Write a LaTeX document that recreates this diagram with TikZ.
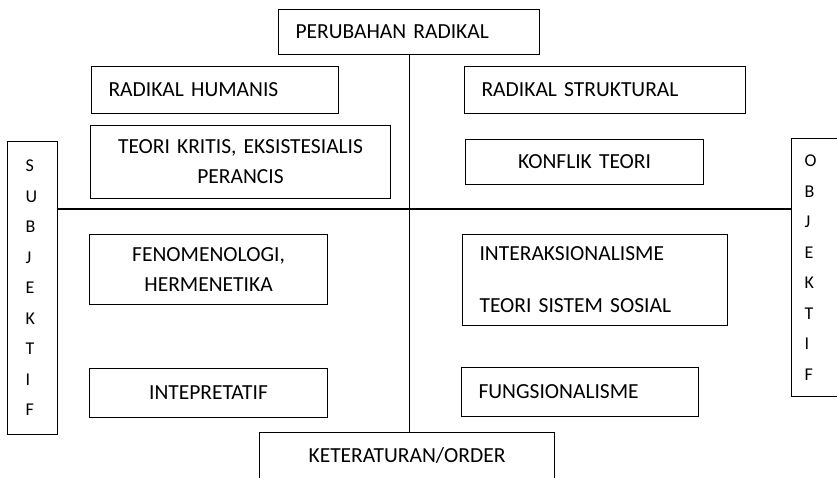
\documentclass[tikz,border=0pt]{standalone}
\usepackage{fontspec}
\setmainfont{Carlito}
\usepackage{tikz}
\usetikzlibrary{positioning, calc}

\newcommand{\boxfont}{\fontsize{21.5}{30}\selectfont}
\newcommand{\sidefont}{\fontsize{18}{30.5}\selectfont}

\begin{document}
\begin{tikzpicture}[
  x=1pt, y=-1pt,
  every node/.style={font=\boxfont},
  box/.style={draw, line width=1.1pt, inner ysep=0pt, anchor=north west},
  lbox/.style={box, align=left, inner xsep=17pt},
  cbox/.style={box, align=center, inner xsep=5pt},
  sidebox/.style={box, align=left, font=\sidefont},
  axis/.style={line width=1.1pt},
]

% Frame
\useasboundingbox (0,0) rectangle (837,478);
\clip (0,0) rectangle (837,478);

% Top and bottom
\node[lbox, minimum width=261pt, minimum height=45pt, text width=227pt] (radikal) at (278,9) {PERUBAHAN RADIKAL};
\node[cbox, minimum width=295pt, text width=285pt, text height=22pt, text depth=40pt, inner ysep=8pt] (order) at (259,432) {KETERATURAN/ORDER};

% Side labels
\node[sidebox, minimum width=50pt, minimum height=293pt, inner xsep=18pt, text width=14pt] (subjektif) at (7,141) {S\\U\\B\\J\\E\\K\\T\\I\\F};
\node[sidebox, minimum width=56pt, minimum height=258pt, inner xsep=13pt, text width=30pt] (objektif) at (791,138) {O\\B\\J\\E\\K\\T\\I\\F};

% Axes
\coordinate (centre) at (408,209);
\draw[axis] (radikal.south) -- (radikal.south |- order.north);
\draw[axis] (subjektif.east |- centre) -- (objektif.west |- centre);

% Upper left
\node[lbox, minimum width=247pt, minimum height=47pt, text width=213pt] (humanis) at (91,66) {RADIKAL HUMANIS};
\node[cbox, minimum width=300pt, minimum height=73pt, text width=290pt] (kritis) at (90,125) {TEORI KRITIS, EKSISTESIALIS\\PERANCIS};

% Upper right
\node[lbox, minimum width=281pt, minimum height=47pt, text width=247pt] (struktural) at (464,66) {RADIKAL STRUKTURAL};
\node[cbox, minimum width=238pt, minimum height=45pt, text width=228pt] (konflik) at (465,139) {KONFLIK TEORI};

% Lower left
\node[cbox, minimum width=238pt, minimum height=70pt, text width=228pt] (fenomen) at (89,234) {FENOMENOLOGI,\\HERMENETIKA};
\node[cbox, minimum width=238pt, minimum height=49pt, text width=228pt] (interpretatif) at (89,368) {INTEPRETATIF};

% Lower right
\node[lbox, minimum width=265pt, minimum height=91pt, text width=231pt] (interaksi) at (462,234) {INTERAKSIONALISME\\[22pt]TEORI SISTEM SOSIAL};
\node[lbox, minimum width=237pt, minimum height=49pt, text width=203pt] (fungsi) at (461,367) {FUNGSIONALISME};

\end{tikzpicture}
\end{document}
